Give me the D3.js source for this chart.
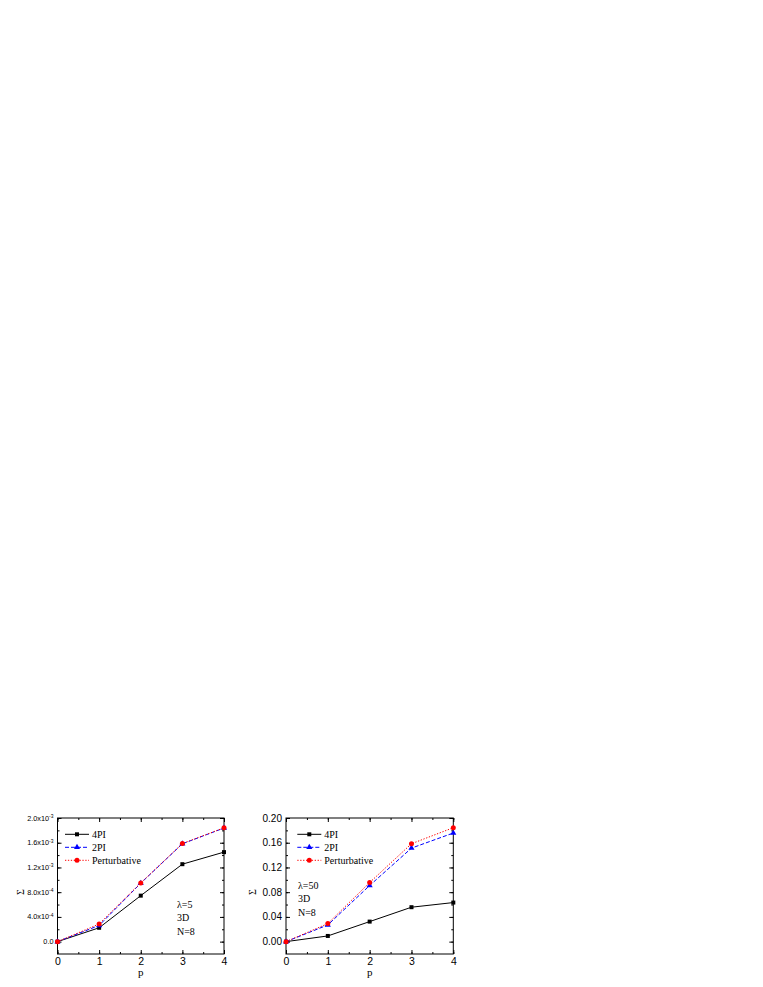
<!DOCTYPE html>
<html><head><meta charset="utf-8">
<script src="https://cdn.jsdelivr.net/npm/d3@7"></script>
<style>body{margin:0;background:#fff}svg{display:block}</style>
</head><body>
<svg id="c" width="763" height="987"></svg>
<script>
const pValues = [0, 1, 2, 3, 4];
const seriesNames = ["4PI", "2PI", "Perturbative"];
// Left panel (lambda = 5)
const left4PI = [0, 0.000224, 0.000744, 0.001253, 0.001448];
const left2PI = [0, 0.000262, 0.000945, 0.001583, 0.001838];
const leftPert = [0, 0.000285, 0.000950, 0.001586, 0.001842];
const leftYTicks = [0, 0.0004, 0.0008, 0.0012, 0.0016, 0.002];
const leftYLabels = ["0.0", "4.0x10^-4", "8.0x10^-4", "1.2x10^-3", "1.6x10^-3", "2.0x10^-3"];
// Right panel (lambda = 50)
const right4PI = [0, 0.0092, 0.0324, 0.0557, 0.0632];
const right2PI = [0, 0.0270, 0.0908, 0.1513, 0.1757];
const rightPert = [0, 0.0292, 0.0956, 0.1584, 0.1843];
const rightYTicks = [0, 0.04, 0.08, 0.12, 0.16, 0.20];
const rightYLabels = ["0.00", "0.04", "0.08", "0.12", "0.16", "0.20"];
const xTicks = [0, 1, 2, 3, 4];
const leftNotes = ["\u03bb=5", "3D", "N=8"];
const rightNotes = ["\u03bb=50", "3D", "N=8"];

const svg = d3.select("#c");
const styles = [
  {color: "#000", dash: null, marker: "square"},
  {color: "#0000ff", dash: "4,2", marker: "triangle"},
  {color: "#ff0000", dash: "1.3,1.6", marker: "circle"}
];

function marker(g, type, x, y, color) {
  if (type === "square") g.append("rect").attr("x", x - 2).attr("y", y - 2).attr("width", 4).attr("height", 4).attr("fill", color);
  else if (type === "triangle") g.append("path").attr("d", d3.symbol(d3.symbolTriangle, 16)()).attr("transform", `translate(${x},${y})`).attr("fill", color);
  else g.append("circle").attr("cx", x).attr("cy", y).attr("r", 2.5).attr("fill", color);
}

function panel(opt) {
  const {x0, x1, y0, y1, ydom, series, yTicks, yLabels, notes, noteX, noteY, labelFont, legX, sigmaX} = opt;
  const g = svg.append("g");
  const x = d3.scaleLinear().domain([0, 4]).range([x0, x1]);
  const y = d3.scaleLinear().domain(ydom).range([y1, y0]);
  const minorX = d3.range(0, 4.01, 0.5);
  const step = yTicks[1] - yTicks[0];
  const minorY = d3.range(0, ydom[1] + step / 4, step / 2);
  const bx = g.append("g").attr("transform", `translate(0,${y1})`)
    .call(d3.axisBottom(x).tickValues(xTicks).tickSize(-4).tickPadding(4).tickFormat(d3.format("d")));
  bx.selectAll("text").attr("font-family", "Arial, Liberation Sans, sans-serif").attr("font-size", 10.5).attr("fill", "#000");
  g.append("g").attr("transform", `translate(0,${y1})`).call(d3.axisBottom(x).tickValues(minorX).tickSize(-2).tickFormat(""));
  g.append("g").attr("transform", `translate(0,${y0})`).call(d3.axisTop(x).tickValues(xTicks).tickSize(-4).tickFormat(""));
  g.append("g").attr("transform", `translate(0,${y0})`).call(d3.axisTop(x).tickValues(minorX).tickSize(-2).tickFormat(""));
  g.append("g").attr("transform", `translate(${x0},0)`)
    .call(d3.axisLeft(y).tickValues(yTicks).tickSize(-4).tickFormat(""));
  g.append("g").attr("transform", `translate(${x0},0)`).call(d3.axisLeft(y).tickValues(minorY).tickSize(-2).tickFormat(""));
  g.append("g").attr("transform", `translate(${x1},0)`).call(d3.axisRight(y).tickValues(yTicks).tickSize(-4).tickFormat(""));
  g.append("g").attr("transform", `translate(${x1},0)`).call(d3.axisRight(y).tickValues(minorY).tickSize(-2).tickFormat(""));
  g.selectAll(".domain").remove();
  g.selectAll(".tick line").attr("stroke", "#000");
  yTicks.forEach((v, i) => {
    const parts = yLabels[i].split("^");
    const t = g.append("text").attr("x", x0 - 4).attr("y", y(v)).attr("dy", "0.35em").attr("text-anchor", "end")
      .attr("font-family", "Arial, Liberation Sans, sans-serif").attr("font-size", labelFont).attr("fill", "#000");
    t.append("tspan").text(parts[0]);
    if (parts[1]) t.append("tspan").attr("font-size", labelFont * 0.68).attr("dy", "-0.55em").text(parts[1]);
  });
  g.append("rect").attr("x", x0).attr("y", y0).attr("width", x1 - x0).attr("height", y1 - y0)
    .attr("fill", "none").attr("stroke", "#000").attr("stroke-width", 1);
  const line = d3.line().x((d, i) => x(pValues[i])).y(d => y(d));
  series.forEach((s, k) => {
    const st = styles[k];
    g.append("path").datum(s).attr("d", line).attr("fill", "none").attr("stroke", st.color)
      .attr("stroke-width", 1).attr("stroke-dasharray", st.dash);
  });
  series.forEach((s, k) => {
    s.forEach((v, i) => marker(g, styles[k].marker, x(pValues[i]), y(v), styles[k].color));
  });
  seriesNames.forEach((n, k) => {
    const ly0 = 834.3 + k * 13;
    const st = styles[k];
    g.append("line").attr("x1", legX).attr("x2", legX + 24).attr("y1", ly0).attr("y2", ly0)
      .attr("stroke", st.color).attr("stroke-width", 1).attr("stroke-dasharray", st.dash);
    marker(g, st.marker, legX + 12, ly0, st.color);
    g.append("text").attr("x", legX + 27).attr("y", ly0).attr("dy", "0.35em")
      .attr("font-family", "Liberation Serif, Times New Roman, serif").attr("font-size", 10).text(n);
  });
  notes.forEach((n, k) => {
    g.append("text").attr("x", noteX).attr("y", noteY + k * 13.5).attr("dy", "0.35em")
      .attr("font-family", "Liberation Serif, Times New Roman, serif").attr("font-size", 10).text(n);
  });
  g.append("text").attr("x", (x0 + x1) / 2).attr("y", 976).attr("text-anchor", "middle")
    .attr("font-family", "Liberation Serif, Times New Roman, serif").attr("font-size", 11).text("p");
  g.append("text").attr("transform", `translate(${sigmaX},${(y0 + y1) / 2 + 6}) rotate(-90)`).attr("text-anchor", "middle")
    .attr("dy", "0.35em").attr("font-family", "Liberation Serif, Times New Roman, serif").attr("font-size", 10).text("\u03a3");
}

panel({x0: 57.5, x1: 224, y0: 818, y1: 954, ydom: [-0.0002, 0.002], series: [left4PI, left2PI, leftPert],
  yTicks: leftYTicks, yLabels: leftYLabels, notes: leftNotes, noteX: 177, noteY: 904, labelFont: 7.3, legX: 65, sigmaX: 20});
panel({x0: 286, x1: 453.3, y0: 818, y1: 954, ydom: [-0.02, 0.2], series: [right4PI, right2PI, rightPert],
  yTicks: rightYTicks, yLabels: rightYLabels, notes: rightNotes, noteX: 298, noteY: 885, labelFont: 10, legX: 297.3, sigmaX: 252});
</script>
</body></html>
